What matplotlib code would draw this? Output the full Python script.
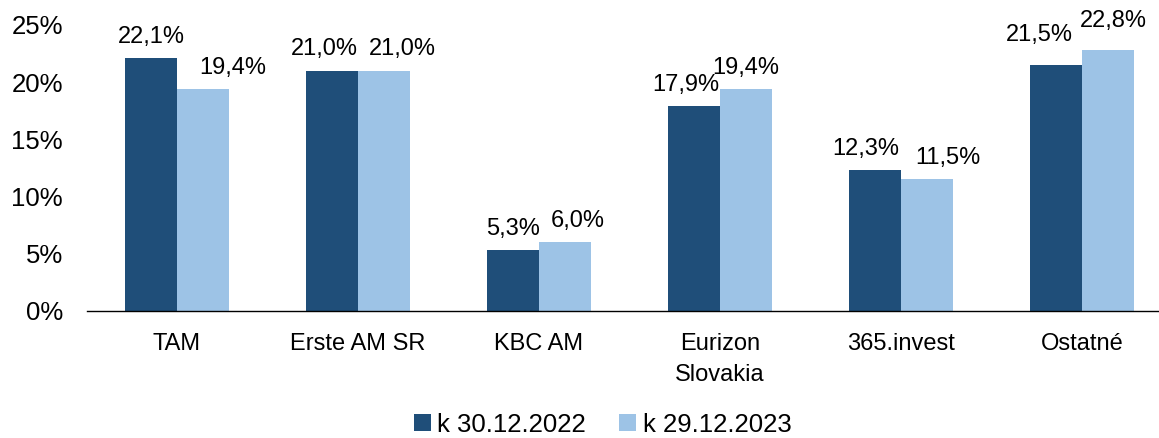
import numpy as np
import matplotlib
matplotlib.use("Agg")
import matplotlib.pyplot as plt
from matplotlib.ticker import FuncFormatter

# ── data ──────────────────────────────────────────────────────────────────
categories = ["TAM", "Erste AM SR", "KBC AM", "Eurizon\nSlovakia", "365.invest", "Ostatné"]
share_2022 = [22.1, 21.0, 5.3, 17.9, 12.3, 21.5]
share_2023 = [19.4, 21.0, 6.0, 19.4, 11.5, 22.8]
series_labels = ["k 30.12.2022", "k 29.12.2023"]

DARK = "#1F4E79"
LIGHT = "#9DC3E6"
FONT = "Liberation Sans"

# label nudges (px) so labels don't collide, as in the source chart
dx_2022 = [0, -8, 0, -8, -9, -17]
dx_2023 = [30, 18, 13, 0, 21, 5]
dy_2022 = [0, 0, 0, 0, 0, 9]
dy_2023 = [0, 0, 0, 0, 0, 8]

plt.rcParams["font.family"] = [FONT, "DejaVu Sans"]

fig = plt.figure(figsize=(11.59, 4.38), dpi=100)
ax = fig.add_axes([86.5 / 1159, 0.290, 1086 / 1159, 0.653])

x = np.arange(len(categories))
w = 0.287
b1 = ax.bar(x - w / 2, share_2022, width=w, color=DARK, label=series_labels[0])
b2 = ax.bar(x + w / 2, share_2023, width=w, color=LIGHT, label=series_labels[1])

def fmt(v):
    return f"{v:.1f}%".replace(".", ",")

for bars, vals, dxs, dys in ((b1, share_2022, dx_2022, dy_2022),
                             (b2, share_2023, dx_2023, dy_2023)):
    for rect, v, dx, dy in zip(bars, vals, dxs, dys):
        ax.annotate(fmt(v), (rect.get_x() + rect.get_width() / 2, v),
                    xytext=(dx * 0.72, 11 + dy * 0.72), textcoords="offset points",
                    ha="center", va="baseline", fontsize=17, color="#000000")

ax.set_xlim(-0.5, 5.5)
ax.set_ylim(0, 25)
ax.set_yticks(np.arange(0, 26, 5))
ax.yaxis.set_major_formatter(FuncFormatter(lambda v, p: f"{v:.0f}%"))
ax.set_xticks(x)
ax.set_xticklabels(categories, fontsize=17, linespacing=1.5)
ax.tick_params(axis="y", length=0, pad=17, labelsize=18.5)
ax.tick_params(axis="x", length=0, pad=16)

for s in ("top", "right", "left"):
    ax.spines[s].set_visible(False)
ax.spines["bottom"].set_color("#000000")
ax.spines["bottom"].set_linewidth(1.0)

fig.legend(loc="center", bbox_to_anchor=(0.52, 0.03), ncol=2, frameon=False,
           fontsize=18.5, handlelength=0.65, handleheight=0.65, handletextpad=0.25,
           columnspacing=1.3, borderpad=0.2)

fig.savefig("out.png", dpi=100, facecolor="white")
